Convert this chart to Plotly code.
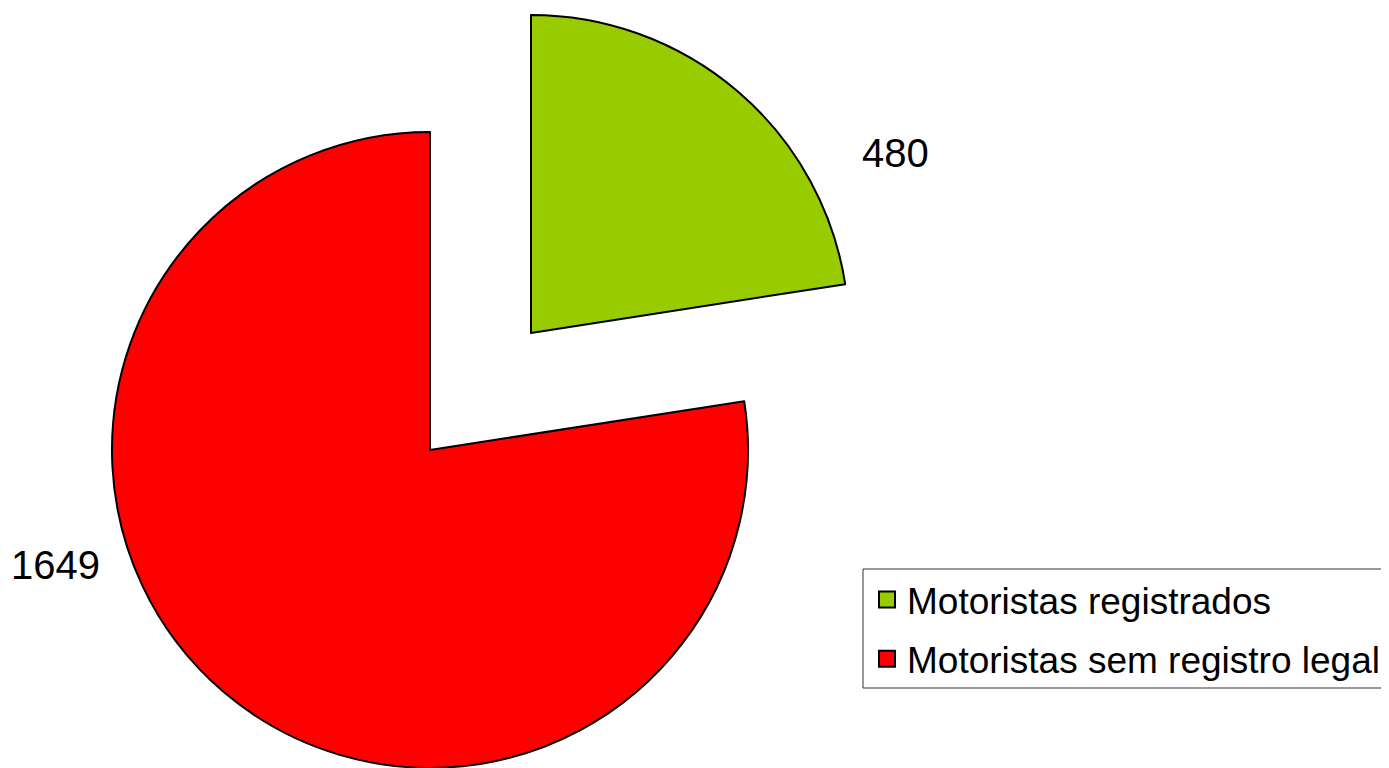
import plotly.graph_objects as go

# data
labels = ["Motoristas registrados", "Motoristas sem registro legal"]
values = [480, 1649]
colors = ["#99CC00", "#FF0000"]
CLEAR = "rgba(0,0,0,0)"

W, H = 1389, 768
OFF = 8  # page body margin, the figure div starts 8px in


def px(sx):
    return (sx - OFF) / W


def py(sy):
    return 1 - (sy - OFF) / H


fig = go.Figure()

# red part drawn at its place, green part drawn from a second pie shifted out
# (plotly's own pull would shrink the whole pie to fit the figure)
fig.add_trace(go.Pie(
    labels=labels, values=values, sort=False, direction="clockwise", rotation=0,
    marker=dict(colors=[CLEAR, colors[1]], line=dict(color=[CLEAR, "black"], width=2)),
    textinfo="none", hoverinfo="label+value", showlegend=False,
    domain=dict(x=[px(112), px(748)], y=[py(768), py(132)]),
))
fig.add_trace(go.Pie(
    labels=labels, values=values, sort=False, direction="clockwise", rotation=0,
    marker=dict(colors=[colors[0], CLEAR], line=dict(color=["black", CLEAR], width=2)),
    textinfo="none", hoverinfo="label+value", showlegend=False,
    domain=dict(x=[px(213), px(849)], y=[py(651), py(15)]),
))

# legend entries
for i, (lab, col) in enumerate(zip(labels, colors)):
    fig.add_trace(go.Scatter(
        x=[None], y=[None], mode="markers", name=lab, legendgroup=f"g{i}",
        marker=dict(symbol="square", size=16, color=col, line=dict(color="black", width=2)),
    ))

# legend frame, runs off the right edge like in the original
fig.add_shape(
    type="rect", xref="paper", yref="paper",
    x0=px(863), x1=1.2, y0=py(688), y1=py(569),
    line=dict(color="#333", width=1), fillcolor="white", layer="below",
)

# value labels
label_pos = [(895, 153), (55, 565)]
for v, (lx, ly) in zip(values, label_pos):
    fig.add_annotation(
        x=px(lx), y=py(ly), xref="paper", yref="paper",
        xanchor="center", yanchor="middle",
        text=str(v), showarrow=False,
        font=dict(size=40, color="black", family="Liberation Sans, Arial"),
    )

fig.update_layout(
    width=W, height=H,
    margin=dict(l=0, r=0, t=0, b=0, autoexpand=False),
    paper_bgcolor="white", plot_bgcolor="white",
    font=dict(family="Liberation Sans, Arial", color="black"),
    xaxis=dict(visible=False), yaxis=dict(visible=False),
    legend=dict(
        x=px(863), y=py(569), xanchor="left", yanchor="top",
        font=dict(size=37, color="black"),
        bgcolor="rgba(0,0,0,0)", borderwidth=0,
        traceorder="grouped", tracegroupgap=8, itemsizing="trace",
        indentation=4,
    ),
)

fig.write_html("out.html")
